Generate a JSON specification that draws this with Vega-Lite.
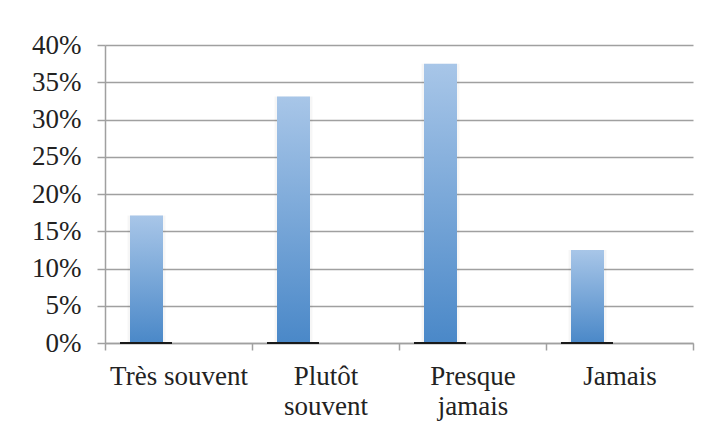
{
  "$schema": "https://vega.github.io/schema/vega-lite/v6.json",
  "width": 588,
  "height": 298,
  "autosize": "none",
  "padding": {"left": 105, "top": 45, "right": 29, "bottom": 91},
  "background": "white",
  "data": {
    "values": [
      {"categorie": "Très souvent", "part": 0.171},
      {"categorie": "Plutôt souvent", "part": 0.331},
      {"categorie": "Presque jamais", "part": 0.375},
      {"categorie": "Jamais", "part": 0.125}
    ]
  },
  "encoding": {
    "x": {
      "field": "categorie",
      "type": "nominal",
      "sort": null,
      "scale": {"paddingInner": 0, "paddingOuter": 0},
      "axis": {
        "title": null,
        "labelAngle": 0,
        "tickBand": "extent",
        "tickSize": 7,
        "tickWidth": 1.5,
        "tickColor": "#a0a0a0",
        "domainColor": "#a0a0a0",
        "domainWidth": 1.5,
        "labelFont": "Liberation Serif",
        "labelFontSize": 27,
        "labelColor": "#222222",
        "labelPadding": 13,
        "labelLineHeight": 30,
        "labelLimit": 400,
        "labelOverlap": false,
        "labelExpr": "datum.label == 'Plutôt souvent' ? ['Plutôt', 'souvent'] : datum.label == 'Presque jamais' ? ['Presque', 'jamais'] : datum.label"
      }
    },
    "y": {
      "field": "part",
      "type": "quantitative",
      "scale": {"domain": [0, 0.4], "nice": false},
      "axis": {
        "title": null,
        "values": [0, 0.05, 0.1, 0.15, 0.2, 0.25, 0.3, 0.35, 0.4],
        "format": ".0%",
        "grid": true,
        "gridColor": "#a0a0a0",
        "gridWidth": 1.5,
        "domainColor": "#a0a0a0",
        "domainWidth": 1.5,
        "tickColor": "#a0a0a0",
        "tickWidth": 1.5,
        "tickSize": 8,
        "labelFont": "Liberation Serif",
        "labelFontSize": 27,
        "labelColor": "#222222",
        "labelPadding": 16,
        "labelOverlap": false,
        "labelFlush": false
      }
    }
  },
  "layer": [
    {
      "mark": {"type": "bar", "width": 38, "xOffset": -32, "color": "#000000", "opacity": 0.035}
    },
    {
      "mark": {
        "type": "bar",
        "width": 33,
        "xOffset": -32,
        "color": {
          "gradient": "linear",
          "x1": 0, "y1": 0, "x2": 0, "y2": 1,
          "stops": [
            {"offset": 0, "color": "#a8c6e8"},
            {"offset": 1, "color": "#4a88c8"}
          ]
        }
      }
    },
    {
      "mark": {"type": "tick", "orient": "horizontal", "size": 52, "thickness": 2, "xOffset": -32.5, "color": "#1a1a1a", "opacity": 1},
      "encoding": {"y": {"datum": 0, "type": "quantitative"}}
    }
  ],
  "config": {"view": {"stroke": null}}
}
